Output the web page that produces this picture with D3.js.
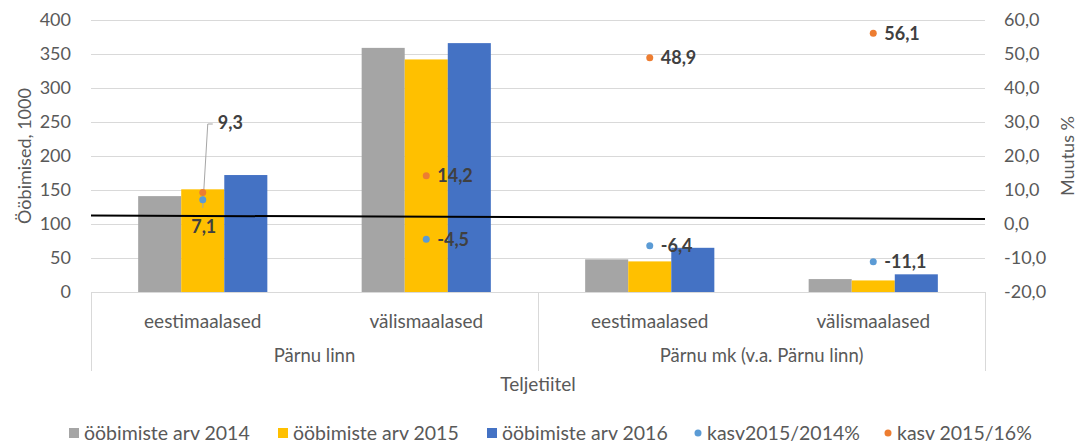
<!DOCTYPE html>
<html><head><meta charset="utf-8">
<script src="https://cdn.jsdelivr.net/npm/d3@7/dist/d3.min.js"></script>
<style>body{margin:0;background:#fff}svg{display:block;font-family:Lato,"Open Sans",sans-serif}</style>
</head><body><svg id="c" width="1079" height="446"></svg>
<script>
const subCategories = ["eestimaalased","välismaalased","eestimaalased","välismaalased"];
const groups = ["Pärnu linn","Pärnu mk (v.a. Pärnu linn)"];
const nights2014 = [141, 359, 48, 19];
const nights2015 = [151, 342, 45, 17];
const nights2016 = [172, 366, 65, 26];
const growth2015_2014 = [7.1, -4.5, -6.4, -11.1];
const growth2015_2016 = [9.3, 14.2, 48.9, 56.1];
const leftTicks = [0,50,100,150,200,250,300,350,400];
const rightTicks = [-20,-10,0,10,20,30,40,50,60];
const refLine = [2.5, 1.5];
const seriesNames = ["ööbimiste arv 2014","ööbimiste arv 2015","ööbimiste arv 2016","kasv2015/2014%","kasv 2015/16%"];
const colors = ["#A5A5A5","#FFC000","#4472C4","#5B9BD5","#ED7D31"];

const svg = d3.select("#c");
const L = 91, R = 985, T = 20, B = 292;
const txt = "#595959";

const yL = d3.scaleLinear().domain([0,400]).range([B,T]);
const yR = d3.scaleLinear().domain([-20,60]).range([B,T]);
const idx = d3.range(subCategories.length);
const x0 = d3.scaleBand().domain(idx).range([L,R]).padding(0);
const bw = x0.bandwidth();
const x1 = d3.scaleBand().domain([0,1,2]).range([bw*0.211, bw*0.789]).padding(0);

// gridlines
svg.append("g").selectAll("line").data(leftTicks.slice(1)).join("line")
  .attr("x1",L).attr("x2",R).attr("y1",d=>yL(d)+0.5).attr("y2",d=>yL(d)+0.5)
  .attr("stroke","#d9d9d9").attr("stroke-width",1);

// left axis
const ga = svg.append("g").attr("transform",`translate(${L},0)`)
  .call(d3.axisLeft(yL).tickValues(leftTicks).tickSize(0).tickPadding(20));
ga.select(".domain").remove();
ga.selectAll("text").attr("font-size",18).attr("fill",txt).attr("font-family","Lato");

const gr = svg.append("g").attr("transform",`translate(${R},0)`)
  .call(d3.axisRight(yR).tickValues(rightTicks).tickSize(0).tickPadding(19)
     .tickFormat(d=>d3.format(".1f")(d).replace(".",",").replace("−","-")));
gr.select(".domain").remove();
gr.selectAll("text").attr("font-size",18).attr("fill",txt).attr("font-family","Lato");

// bars
const barData = [nights2014,nights2015,nights2016];
idx.forEach(i=>{
  barData.forEach((arr,s)=>{
    svg.append("rect").attr("x",x0(i)+x1(s)).attr("width",x1.bandwidth())
      .attr("y",yL(arr[i])).attr("height",yL(0)-yL(arr[i])).attr("fill",colors[s]);
  });
});

// category axis
svg.append("line").attr("x1",L).attr("x2",R).attr("y1",B+0.5).attr("y2",B+0.5).attr("stroke","#d9d9d9");
[0,2,4].forEach(k=>{
  const xx = k<4 ? x0(k) : R;
  svg.append("line").attr("x1",Math.round(xx)+0.5).attr("x2",Math.round(xx)+0.5)
    .attr("y1",B).attr("y2",371).attr("stroke","#d9d9d9");
});
svg.append("g").selectAll("text").data(idx).join("text")
  .attr("x",i=>x0(i)+bw/2).attr("y",328).attr("text-anchor","middle")
  .attr("font-size",19).attr("fill",txt).text(i=>subCategories[i]);
svg.append("g").selectAll("text").data(groups).join("text")
  .attr("x",(d,g)=>x0(g*2)+bw).attr("y",362).attr("text-anchor","middle")
  .attr("font-size",18.5).attr("fill",txt).text(d=>d);
svg.append("text").attr("x",(L+R)/2).attr("y",391).attr("text-anchor","middle")
  .attr("font-size",19).attr("fill",txt).text("Teljetiitel");

// axis titles
svg.append("text").attr("transform",`translate(31,156) rotate(-90)`).attr("text-anchor","middle")
  .attr("font-size",18).attr("fill",txt).text("Ööbimised, 1000");
svg.append("text").attr("transform",`translate(1074,156) rotate(-90)`).attr("text-anchor","middle")
  .attr("font-size",18).attr("fill",txt).text("Muutus %");

// reference line (drawn)
svg.append("line").attr("x1",L).attr("x2",R)
  .attr("y1",yR(refLine[0])).attr("y2",yR(refLine[1]))
  .attr("stroke","#000").attr("stroke-width",2);

// leader line for 9,3
const cx0 = x0(0)+bw/2;
svg.append("polyline")
  .attr("points",`${cx0},${yR(growth2015_2014[0])+8} ${cx0+5},${yR(30)+2} ${cx0+10},${yR(30)+2}`)
  .attr("fill","none").attr("stroke","#a6a6a6").attr("stroke-width",1);

// points
const pts = [growth2015_2014, growth2015_2016];
pts.forEach((arr,s)=>{
  svg.append("g").selectAll("circle").data(idx).join("circle")
    .attr("cx",i=>x0(i)+bw/2).attr("cy",i=>yR(arr[i])).attr("r",3.5).attr("fill",colors[3+s]);
});

// data labels
const fmt = v=>d3.format(".1f")(v).replace(".",",").replace("−","-");
function lab(x,y,t,anchor){
  svg.append("text").attr("x",x).attr("y",y).attr("dy","0.35em").attr("text-anchor",anchor||"start")
    .attr("font-size",18).attr("font-weight","bold").attr("fill","#404040").text(t);
}
idx.forEach(i=>{
  const cx = x0(i)+bw/2;
  if(i===0){
    lab(cx+15, yR(30)+1, fmt(growth2015_2016[i]));
    lab(cx+1, yR(growth2015_2014[i])+27, fmt(growth2015_2014[i]), "middle");
  } else {
    lab(cx+11, yR(growth2015_2016[i]), fmt(growth2015_2016[i]));
    lab(cx+11, yR(growth2015_2014[i]), fmt(growth2015_2014[i]));
  }
});

// legend
const legX = [69, 278, 487, 693, 883];
seriesNames.forEach((n,s)=>{
  const g = svg.append("g").attr("transform",`translate(${legX[s]},433)`);
  if(s<3) g.append("rect").attr("x",0).attr("y",-5).attr("width",10).attr("height",10).attr("fill",colors[s]);
  else g.append("circle").attr("cx",5).attr("cy",0).attr("r",3.5).attr("fill",colors[s]);
  g.append("text").attr("x",s<3?15:14).attr("y",0).attr("dy","0.35em")
    .attr("font-size",19.5).attr("fill",txt).text(n);
});
</script></body></html>
